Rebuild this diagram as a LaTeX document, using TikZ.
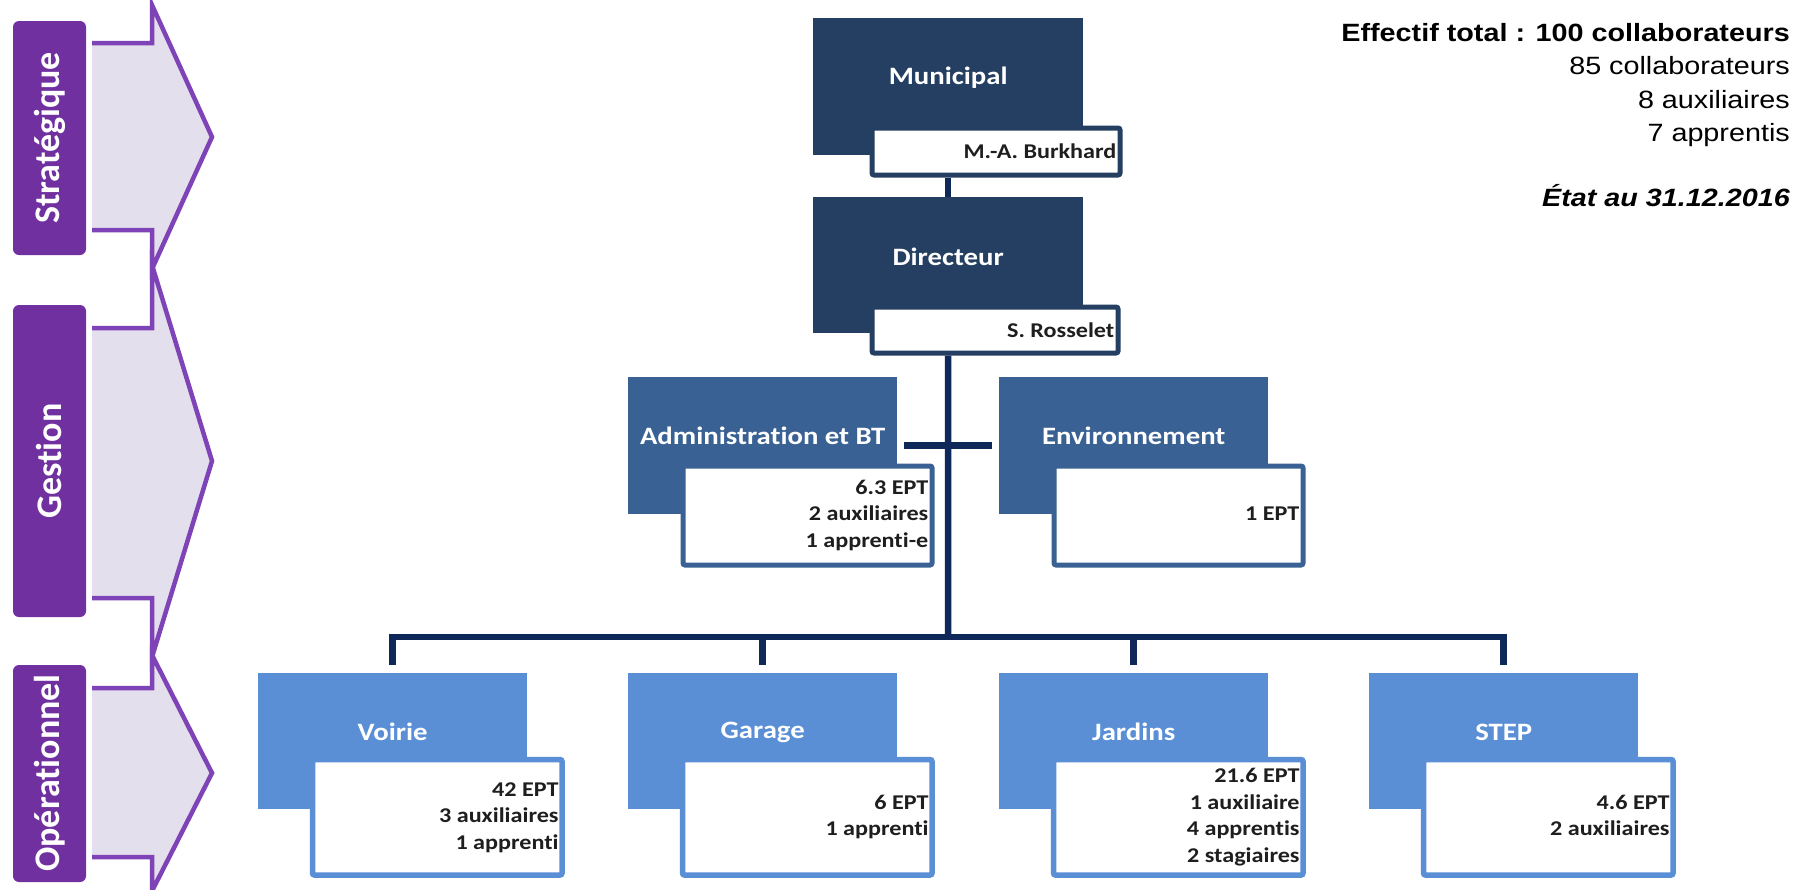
\documentclass[tikz,border=0pt]{standalone}
\usepackage{fontspec}
\usepackage{graphicx}
\setmainfont{Carlito}[Ligatures={NoCommon}]
\newfontfamily\arialf{Liberation Sans}
\usetikzlibrary{calc}
\definecolor{purpleL}{HTML}{7030A0}
\definecolor{arrowFill}{HTML}{E4DFEC}
\definecolor{arrowLine}{HTML}{7E43B6}
\definecolor{navyA}{HTML}{253F62}
\definecolor{blueB}{HTML}{3A6193}
\definecolor{blueC}{HTML}{5A8FD6}
\definecolor{lineNavy}{HTML}{0F285A}
\definecolor{txtDark}{HTML}{1E1E1E}
\newcommand{\sx}[1]{\scalebox{1.15}[1]{#1}}
\newcommand{\rlines}[1]{\sx{\begin{tabular}{@{}r@{}}#1\end{tabular}}}
\newcommand{\nti}{t\kern0pt i}
\begin{document}
\begin{tikzpicture}[x=1pt,y=-1pt,
  lvlbox/.style={fill=purpleL, rounded corners=6pt, draw=none},
  lvltext/.style={rotate=90, text=white, font=\fontsize{36}{40}\selectfont\bfseries, inner sep=0},
  arrowfillst/.style={fill=arrowFill},
  arrowlinest/.style={draw=arrowLine, line width=4.5pt},
  darkbox/.style={anchor=north west, minimum width=270pt, minimum height=137pt, inner sep=0, draw=none},
  titletext/.style={text=white, font=\fontsize{25}{30}\selectfont\bfseries, inner sep=0},
  whitebox/.style={anchor=north west, fill=white, line width=5pt, inner sep=0, rounded corners=2pt},
  boxtext/.style={anchor=east, text=txtDark, font=\fontsize{21}{26.5}\selectfont\bfseries, inner sep=0},
  conn/.style={draw=lineNavy, line width=6.5pt},
  infotext/.style={anchor=base east, inner sep=0, text=black, font=\arialf\fontsize{25}{30}\selectfont}
]
\useasboundingbox (0,0) rectangle (1803,889);
\fill[white] (0,0) rectangle (1803,889);
\begin{scope}
\clip (0,0) rectangle (1803,889);
% ---- level arrows ----
\fill[arrowfillst] (92,43) -- (152,43) -- (152,5) -- (212,137) -- (152,269) -- (152,230) -- (92,230) -- cycle;
\draw[arrowlinest] (92,43) -- (152,43) -- (152,5) -- (212,137) -- (152,269) -- (152,230) -- (92,230);
\fill[arrowfillst] (92,328) -- (152,328) -- (152,265) -- (212,461) -- (152,657) -- (152,598) -- (92,598) -- cycle;
\draw[arrowlinest] (92,328) -- (152,328) -- (152,265) -- (212,461) -- (152,657) -- (152,598) -- (92,598);
\fill[arrowfillst] (92,688) -- (152,688) -- (152,655) -- (212,773) -- (152,891) -- (152,857) -- (92,857) -- cycle;
\draw[arrowlinest] (92,688) -- (152,688) -- (152,655) -- (212,773) -- (152,891) -- (152,857) -- (92,857);
\end{scope}
% ---- level labels ----
\fill[lvlbox] (13,21) rectangle (86,255);
\node[lvltext] (lstrat) at (49.5,138) {Stratégique};
\fill[lvlbox] (13,305) rectangle (86,617);
\node[lvltext] (lgest) at (49.5,461) {Gestion};
\fill[lvlbox] (13,665) rectangle (86,882);
\node[lvltext] (lop) at (49.5,773) {Opéra\nti onnel};

% ---- top ----
\node[darkbox, fill=navyA] (mun) at (813,18) {};
\node[titletext] (munT) at ($(mun.north)+(0,60)$) {\sx{Municipal}};
\node[whitebox, draw=navyA, minimum width=248pt, minimum height=47pt] (munW) at (869.5,125.5) {};
\node[boxtext] (munN) at ($(munW.east)+(-6,0)$) {\sx{M.-A. Burkhard}};

\node[darkbox, fill=navyA, minimum height=136pt] (dir) at (813,197) {};
\node[titletext] (dirT) at ($(dir.north)+(0,60)$) {\sx{Directeur}};
\node[whitebox, draw=navyA, minimum width=246pt, minimum height=46pt] (dirW) at (869.5,304.5) {};
\node[boxtext] (dirN) at ($(dirW.east)+(-6,0)$) {\sx{S. Rosselet}};

% ---- middle ----
\node[darkbox, fill=blueB, minimum width=269pt] (adm) at (628,377) {};
\node[titletext] (admT) at ($(adm.north)+(0,59)$) {\sx{Administra\nti on et BT}};
\node[whitebox, draw=blueB, minimum width=249pt, minimum height=99pt] (admW) at (680.5,463.5) {};
\node[boxtext] (admN) at ($(admW.east)+(-6,0)$) {\rlines{6.3 EPT\\2 auxiliaires\\1 appren\nti-e}};

\node[darkbox, fill=blueB, minimum width=269pt] (env) at (999,377) {};
\node[titletext] (envT) at ($(env.north)+(0,59)$) {\sx{Environnement}};
\node[whitebox, draw=blueB, minimum width=249pt, minimum height=99pt] (envW) at (1051.5,463.5) {};
\node[boxtext] (envN) at ($(envW.east)+(-6,0)$) {\rlines{1 EPT}};

% ---- bottom ----
\tikzset{lowbox/.style={darkbox, fill=blueC, minimum width=269pt, minimum height=136pt},
         lowwhite/.style={whitebox, draw=blueC, line width=5.5pt, minimum width=249.5pt, minimum height=115.5pt}}
\node[lowbox] (voi) at (258,673) {};
\node[titletext] (voiT) at ($(voi.north)+(0,59)$) {\sx{Voirie}};
\node[lowwhite] (voiW) at (309.75,756.75) {};
\node[boxtext] (voiN) at ($(voiW.east)+(-6,0)$) {\rlines{42 EPT\\3 auxiliaires\\1 appren\nti}};

\node[lowbox] (gar) at (628,673) {};
\node[titletext] (garT) at ($(gar.north)+(0,59)$) {\sx{Garage}};
\node[lowwhite] (garW) at (679.75,756.75) {};
\node[boxtext] (garN) at ($(garW.east)+(-6,0)$) {\rlines{6 EPT\\1 appren\nti}};

\node[lowbox] (jar) at (999,673) {};
\node[titletext] (jarT) at ($(jar.north)+(0,59)$) {\sx{Jardins}};
\node[lowwhite] (jarW) at (1050.75,756.75) {};
\node[boxtext] (jarN) at ($(jarW.east)+(-6,0)$) {\rlines{21.6 EPT\\1 auxiliaire\\4 appren\nti s\\2 stagiaires}};

\node[lowbox] (ste) at (1369,673) {};
\node[titletext] (steT) at ($(ste.north)+(0,59)$) {\sx{STEP}};
\node[lowwhite] (steW) at (1420.75,756.75) {};
\node[boxtext] (steN) at ($(steW.east)+(-6,0)$) {\rlines{4.6 EPT\\2 auxiliaires}};

% ---- connectors ----
\coordinate (bar) at (948,637);
\draw[conn] (mun.south |- munW.south) -- (dir.north);
\draw[conn] (dir.south |- dirW.south) -- (bar);
\draw[conn] ([xshift=7pt]adm.east) -- ([xshift=-7pt]env.west);
\draw[conn] ($(voi.north)+(0,-8)$) |- (ste.north |- bar) -- ($(ste.north)+(0,-8)$);
\draw[conn] (gar.north |- bar) -- ($(gar.north)+(0,-8)$);
\draw[conn] (jar.north |- bar) -- ($(jar.north)+(0,-8)$);

% ---- info text ----
\node[infotext, font=\arialf\fontsize{25}{30}\selectfont\bfseries] (i1) at (1790,41) {\sx{Effectif total : 100 collaborateurs}};
\node[infotext] (i2) at (1790,74.5) {\sx{85 collaborateurs}};
\node[infotext] (i3) at (1790,108) {\sx{8 auxiliaires}};
\node[infotext] (i4) at (1790,141.5) {\sx{7 apprentis}};
\node[infotext, font=\arialf\fontsize{25}{30}\selectfont\bfseries\itshape] (i5) at (1790,206) {\sx{État au 31.12.2016}};
\end{tikzpicture}
\end{document}
